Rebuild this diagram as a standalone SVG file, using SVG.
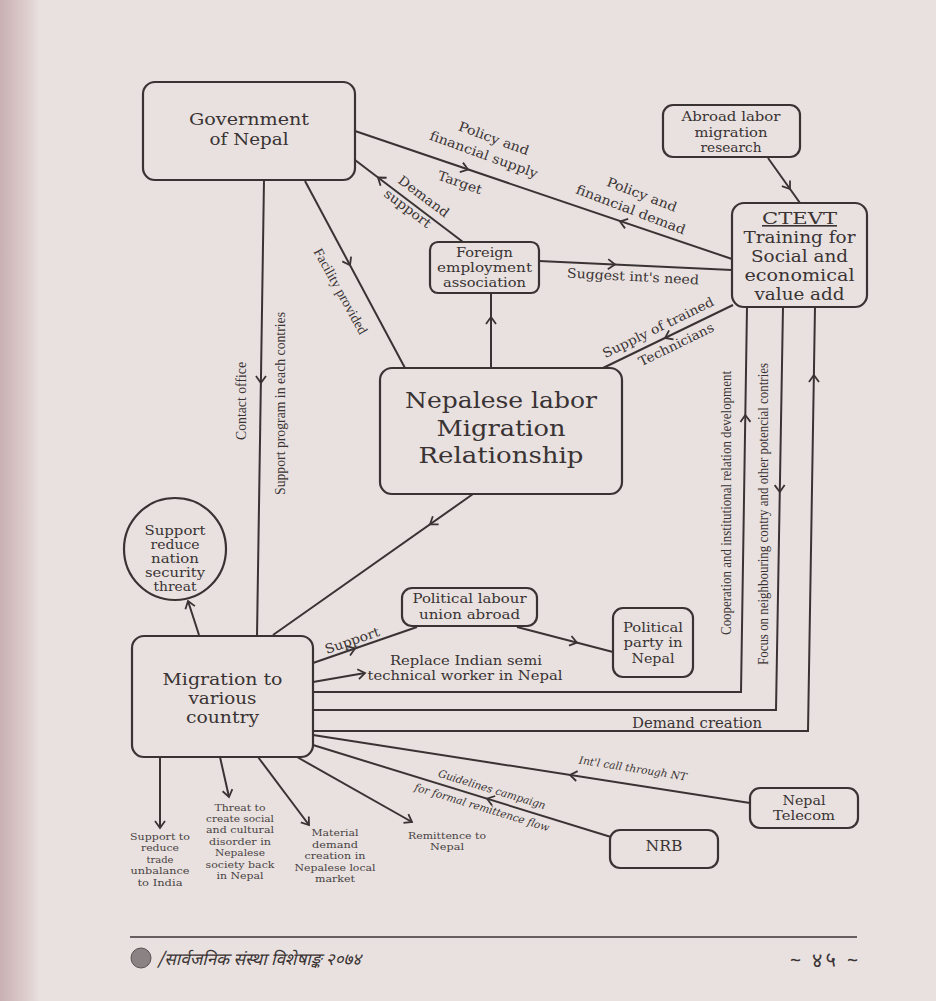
<svg xmlns="http://www.w3.org/2000/svg" width="936" height="1001" viewBox="0 0 936 1001">
<defs>
<linearGradient id="gutter" x1="0" y1="0" x2="1" y2="0">
<stop offset="0" stop-color="#c9b0b3"/>
<stop offset="0.6" stop-color="#dccbcb"/>
<stop offset="1" stop-color="#e8e1df"/>
</linearGradient>
<marker id="ar" viewBox="-9 -7 11 14" refX="0" refY="0" markerWidth="11" markerHeight="14" markerUnits="userSpaceOnUse" orient="auto">
<path d="M-7,-5 L0,0 L-7,5" fill="none" stroke="#3a3334" stroke-width="1.8"/>
</marker>
<style>
.bx{fill:none;stroke:#3a3334;stroke-width:2.2}
.ln{fill:none;stroke:#3a3334;stroke-width:2}
.ah{fill:none;stroke:none;marker-end:url(#ar)}
.end{marker-end:url(#ar)}
.n{font-family:"DejaVu Serif","Liberation Serif",serif;fill:#3a3334;text-anchor:middle}
.e{font-family:"DejaVu Serif","Liberation Serif",serif;font-size:13px;fill:#3a3334;text-anchor:middle}
.v{font-family:"Liberation Serif","DejaVu Serif",serif;font-size:14px;fill:#3a3334;text-anchor:middle}
.i{font-family:"DejaVu Serif","Liberation Serif",serif;font-style:italic;font-size:10.5px;fill:#3a3334;text-anchor:middle}
.s{font-family:"DejaVu Serif","Liberation Serif",serif;font-size:9.5px;fill:#4a4344;text-anchor:middle}
.ft{font-family:"Noto Sans Devanagari","Lohit Devanagari","FreeSans","Noto Sans",sans-serif;fill:#3a3334}
</style>
</defs>
<rect x="0" y="0" width="936" height="1001" fill="#e8e1df"/>
<rect x="0" y="0" width="40" height="1001" fill="url(#gutter)"/>

<g id="connectors">
<path class="ln" d="M355,131 L732,259"/>
<path class="ln" d="M463,242 L355,160"/>
<path class="ln" d="M305,181 L405,368"/>
<path class="ln" d="M264,180 L257,636"/>
<path class="ln" d="M491,368 L491,293"/>
<path class="ln" d="M539,261 L732,270"/>
<path class="ln" d="M768,158 L800,203"/>
<path class="ln" d="M733,305 L603,368"/>
<path class="ln" d="M473,494 L273,635"/>
<path class="ln end" d="M199,635 L188,601"/>
<path class="ln" d="M313,663 L417,627"/>
<path class="ln end" d="M313,682 L365,673"/>
<path class="ln" d="M517,627 L613,652"/>
<path class="ln" d="M313,692 L741,692 L747,307"/>
<path class="ln" d="M313,710 L776,710 L783,307"/>
<path class="ln" d="M313,731 L808,731 L815,307"/>
<path class="ln" d="M750,803 L313,735"/>
<path class="ln" d="M611,837 L313,745"/>
<path class="ln end" d="M160,757 L160,828"/>
<path class="ln end" d="M220,757 L229,797"/>
<path class="ln end" d="M258,757 L309,825"/>
<path class="ln end" d="M297,757 L412,822"/>
<path class="ah" d="M458,166.2 L468,169.6"/>
<path class="ah" d="M630,224.8 L620,221.4"/>
<path class="ah" d="M388,185.1 L378,177.5"/>
<path class="ah" d="M345.3,256.4 L350,265.2"/>
<path class="ah" d="M261,373 L260.9,383"/>
<path class="ah" d="M491,327 L491,317"/>
<path class="ah" d="M605,264 L615,264.5"/>
<path class="ah" d="M784.2,180.9 L790,189"/>
<path class="ah" d="M674,333.6 L665,338"/>
<path class="ah" d="M438.2,518.5 L430,524.3"/>
<path class="ah" d="M345.5,651.8 L355,648.5"/>
<path class="ah" d="M567.3,640.1 L577,642.6"/>
<path class="ah" d="M745.5,425 L745.3,415"/>
<path class="ah" d="M779.6,482 L779.8,492"/>
<path class="ah" d="M814,385 L813.9,375"/>
<path class="ah" d="M579.9,776.5 L570,775"/>
<path class="ah" d="M496.6,801.7 L487,798.7"/>
<text class="e" transform="translate(494,138) rotate(20)" y="5" textLength="74" lengthAdjust="spacingAndGlyphs">Policy and</text>
<text class="e" transform="translate(484,154) rotate(20)" y="5" textLength="114" lengthAdjust="spacingAndGlyphs">financial supply</text>
<text class="e" transform="translate(460,182) rotate(19)" y="5" textLength="46" lengthAdjust="spacingAndGlyphs">Target</text>
<text class="e" transform="translate(424,196) rotate(37)" y="5" textLength="60" lengthAdjust="spacingAndGlyphs">Demand</text>
<text class="e" transform="translate(408,208) rotate(37)" y="5" textLength="55" lengthAdjust="spacingAndGlyphs">support</text>
<text class="e" transform="translate(642,194) rotate(21)" y="5" textLength="74" lengthAdjust="spacingAndGlyphs">Policy and</text>
<text class="e" transform="translate(631,209) rotate(21)" y="5" textLength="116" lengthAdjust="spacingAndGlyphs">financial demad</text>
<text class="e" transform="translate(633,276) rotate(3)" y="5" textLength="132" lengthAdjust="spacingAndGlyphs">Suggest int's need</text>
<text class="e" transform="translate(658,327) rotate(-26)" y="5" textLength="122" lengthAdjust="spacingAndGlyphs">Supply of trained</text>
<text class="e" transform="translate(676,344) rotate(-26)" y="5" textLength="82" lengthAdjust="spacingAndGlyphs">Technicians</text>
<text class="v" transform="translate(341,291) rotate(61)" y="5">Facility provided</text>
<text class="v" transform="translate(246,401) rotate(-90)" textLength="78" lengthAdjust="spacingAndGlyphs">Contact office</text>
<text class="v" transform="translate(285,403.5) rotate(-90)" textLength="183" lengthAdjust="spacingAndGlyphs">Support program in each contries</text>
<text class="v" transform="translate(731,503) rotate(-90)" textLength="264" lengthAdjust="spacingAndGlyphs">Cooperation and institutional relation development</text>
<text class="v" transform="translate(768,514) rotate(-90)" textLength="302" lengthAdjust="spacingAndGlyphs">Focus on neighbouring contry and other potencial contries</text>
<text class="e" transform="translate(352,640) rotate(-19)" y="5" textLength="57" lengthAdjust="spacingAndGlyphs">Support</text>
<text class="n" x="466" y="665" font-size="13" textLength="152" lengthAdjust="spacingAndGlyphs">Replace Indian semi</text>
<text class="n" x="465" y="680" font-size="13" textLength="195" lengthAdjust="spacingAndGlyphs">technical worker in Nepal</text>
<text class="n" x="697" y="728" font-size="14" textLength="130" lengthAdjust="spacingAndGlyphs">Demand creation</text>
<text class="i" transform="translate(633,768) rotate(9)" y="4" font-size="11">Int'l call through NT</text>
<text class="i" transform="translate(492,789) rotate(17)" y="4">Guidelines campaign</text>
<text class="i" transform="translate(482,807) rotate(17)" y="4">for formal remittence flow</text>
</g>

<g id="gov">
<rect class="bx" x="143" y="82" width="212" height="98" rx="12"/>
<text class="n" x="249" y="125" font-size="17" textLength="120" lengthAdjust="spacingAndGlyphs">Government</text>
<text class="n" x="249" y="145" font-size="17" textLength="79" lengthAdjust="spacingAndGlyphs">of Nepal</text>
</g>

<g id="abroad">
<rect class="bx" x="663" y="105" width="137" height="52" rx="10"/>
<text class="n" x="731" y="121" font-size="13" textLength="99" lengthAdjust="spacingAndGlyphs">Abroad labor</text>
<text class="n" x="731" y="137" font-size="13" textLength="73" lengthAdjust="spacingAndGlyphs">migration</text>
<text class="n" x="731" y="152" font-size="13" textLength="61" lengthAdjust="spacingAndGlyphs">research</text>
</g>

<g id="ctevt">
<rect class="bx" x="732" y="203" width="135" height="104" rx="12"/>
<text class="n" x="799.5" y="224" font-size="16" text-decoration="underline" textLength="75" lengthAdjust="spacingAndGlyphs">CTEVT</text>
<text class="n" x="799.5" y="243" font-size="16" textLength="112" lengthAdjust="spacingAndGlyphs">Training for</text>
<text class="n" x="799.5" y="262" font-size="16" textLength="97" lengthAdjust="spacingAndGlyphs">Social and</text>
<text class="n" x="799.5" y="281" font-size="16" textLength="110" lengthAdjust="spacingAndGlyphs">economical</text>
<text class="n" x="799.5" y="300" font-size="16" textLength="90" lengthAdjust="spacingAndGlyphs">value add</text>
</g>

<g id="foreign">
<rect class="bx" x="430" y="242" width="109" height="51" rx="8"/>
<text class="n" x="484.5" y="257" font-size="12.5" textLength="57" lengthAdjust="spacingAndGlyphs">Foreign</text>
<text class="n" x="484.5" y="272" font-size="12.5" textLength="95" lengthAdjust="spacingAndGlyphs">employment</text>
<text class="n" x="484.5" y="287" font-size="12.5" textLength="83" lengthAdjust="spacingAndGlyphs">association</text>
</g>

<g id="nepalese">
<rect class="bx" x="380" y="368" width="242" height="126" rx="12"/>
<text class="n" x="501" y="408" font-size="23" textLength="192" lengthAdjust="spacingAndGlyphs">Nepalese labor</text>
<text class="n" x="501" y="436" font-size="23" textLength="129" lengthAdjust="spacingAndGlyphs">Migration</text>
<text class="n" x="501" y="463" font-size="23" textLength="165" lengthAdjust="spacingAndGlyphs">Relationship</text>
</g>

<g id="security">
<circle class="bx" cx="175" cy="549" r="51"/>
<text class="n" x="175" y="535" font-size="12" textLength="61" lengthAdjust="spacingAndGlyphs">Support</text>
<text class="n" x="175" y="549" font-size="12" textLength="49" lengthAdjust="spacingAndGlyphs">reduce</text>
<text class="n" x="175" y="563" font-size="12" textLength="48" lengthAdjust="spacingAndGlyphs">nation</text>
<text class="n" x="175" y="577" font-size="12" textLength="60" lengthAdjust="spacingAndGlyphs">security</text>
<text class="n" x="175" y="591" font-size="12" textLength="43" lengthAdjust="spacingAndGlyphs">threat</text>
</g>

<g id="migration">
<rect class="bx" x="132" y="636" width="181" height="121" rx="12"/>
<text class="n" x="222.5" y="685" font-size="16" textLength="120" lengthAdjust="spacingAndGlyphs">Migration to</text>
<text class="n" x="222.5" y="704" font-size="16" textLength="68" lengthAdjust="spacingAndGlyphs">various</text>
<text class="n" x="222.5" y="723" font-size="16" textLength="73" lengthAdjust="spacingAndGlyphs">country</text>
</g>

<g id="union">
<rect class="bx" x="402" y="588" width="135" height="38" rx="10"/>
<text class="n" x="469.5" y="603" font-size="13" textLength="114" lengthAdjust="spacingAndGlyphs">Political labour</text>
<text class="n" x="469.5" y="619" font-size="13" textLength="101" lengthAdjust="spacingAndGlyphs">union abroad</text>
</g>

<g id="party">
<rect class="bx" x="613" y="608" width="80" height="69" rx="10"/>
<text class="n" x="653" y="632" font-size="13" textLength="60" lengthAdjust="spacingAndGlyphs">Political</text>
<text class="n" x="653" y="647" font-size="13" textLength="59" lengthAdjust="spacingAndGlyphs">party in</text>
<text class="n" x="653" y="663" font-size="13" textLength="43" lengthAdjust="spacingAndGlyphs">Nepal</text>
</g>

<g id="telecom">
<rect class="bx" x="750" y="788" width="108" height="40" rx="10"/>
<text class="n" x="804" y="805" font-size="13" textLength="43" lengthAdjust="spacingAndGlyphs">Nepal</text>
<text class="n" x="804" y="820" font-size="13" textLength="62" lengthAdjust="spacingAndGlyphs">Telecom</text>
</g>

<g id="nrb">
<rect class="bx" x="610" y="830" width="108" height="38" rx="10"/>
<text class="n" x="664" y="851" font-size="15" textLength="37" lengthAdjust="spacingAndGlyphs">NRB</text>
</g>

<g id="trade">
<text class="s" x="160" y="840" textLength="60" lengthAdjust="spacingAndGlyphs">Support to</text>
<text class="s" x="160" y="851" textLength="38" lengthAdjust="spacingAndGlyphs">reduce</text>
<text class="s" x="160" y="863" textLength="27" lengthAdjust="spacingAndGlyphs">trade</text>
<text class="s" x="160" y="874" textLength="59" lengthAdjust="spacingAndGlyphs">unbalance</text>
<text class="s" x="160" y="886" textLength="45" lengthAdjust="spacingAndGlyphs">to India</text>
</g>

<g id="threat">
<text class="s" x="240" y="811" textLength="51" lengthAdjust="spacingAndGlyphs">Threat to</text>
<text class="s" x="240" y="822" textLength="68" lengthAdjust="spacingAndGlyphs">create social</text>
<text class="s" x="240" y="833" textLength="68" lengthAdjust="spacingAndGlyphs">and cultural</text>
<text class="s" x="240" y="845" textLength="62" lengthAdjust="spacingAndGlyphs">disorder in</text>
<text class="s" x="240" y="856" textLength="50" lengthAdjust="spacingAndGlyphs">Nepalese</text>
<text class="s" x="240" y="868" textLength="69" lengthAdjust="spacingAndGlyphs">society back</text>
<text class="s" x="240" y="879" textLength="47" lengthAdjust="spacingAndGlyphs">in Nepal</text>
</g>

<g id="material">
<text class="s" x="335" y="836" textLength="47" lengthAdjust="spacingAndGlyphs">Material</text>
<text class="s" x="335" y="848" textLength="46" lengthAdjust="spacingAndGlyphs">demand</text>
<text class="s" x="335" y="859" textLength="61" lengthAdjust="spacingAndGlyphs">creation in</text>
<text class="s" x="335" y="871" textLength="81" lengthAdjust="spacingAndGlyphs">Nepalese local</text>
<text class="s" x="335" y="882" textLength="40" lengthAdjust="spacingAndGlyphs">market</text>
</g>

<g id="remit">
<text class="s" x="447" y="839" textLength="78" lengthAdjust="spacingAndGlyphs">Remittence to</text>
<text class="s" x="447" y="850" textLength="34" lengthAdjust="spacingAndGlyphs">Nepal</text>
</g>

<g id="footer">
<line x1="130" y1="937" x2="857" y2="937" stroke="#3a3334" stroke-width="1.6"/>
<circle cx="141" cy="958" r="10" fill="#8a8283" stroke="#5a5354" stroke-width="1"/>
<text class="ft" x="157" y="965" font-size="17" font-style="italic">/सार्वजनिक संस्था विशेषाङ्क २०७४</text>
<text class="ft" x="858" y="967" text-anchor="end" font-size="20" textLength="68" lengthAdjust="spacing">~ ४५ ~</text>
</g>
</svg>
